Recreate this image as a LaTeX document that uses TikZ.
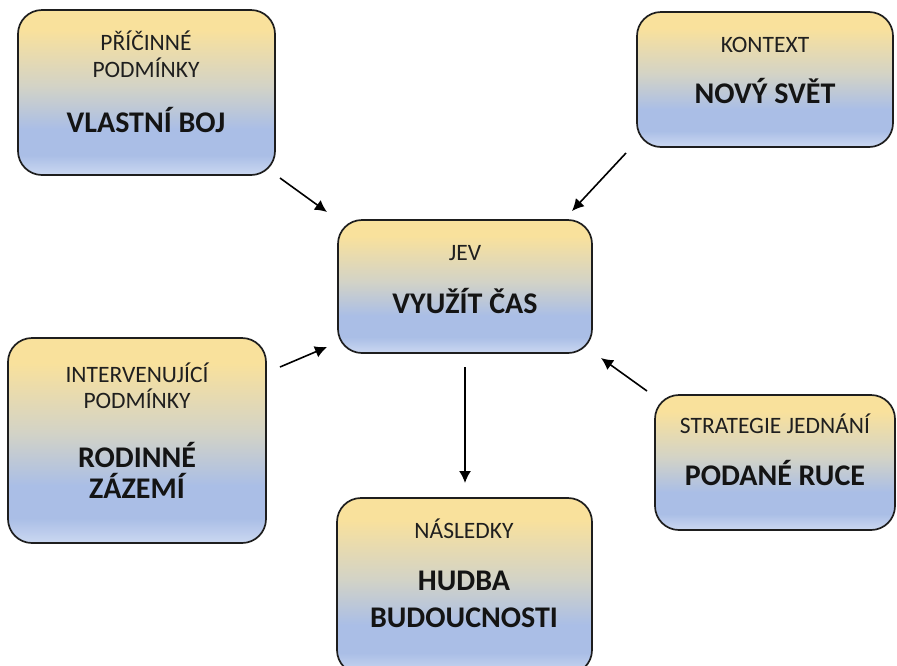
\documentclass[tikz,border=0pt]{standalone}
\usepackage{fontspec}
\setmainfont{Carlito}
\usetikzlibrary{arrows.meta}

\definecolor{fillTop}{HTML}{F9E19C}
\definecolor{fillMid}{HTML}{D3D3C6}
\definecolor{fillBlue}{HTML}{AABEE6}
\definecolor{fillBot}{HTML}{CBD8F1}
\definecolor{edge}{HTML}{1E1E1E}

% vertical gradient; the path spans 25bp (bottom) to 75bp (top)
\pgfdeclareverticalshading{boxfill}{100bp}{%
  color(0bp)=(fillBot); color(25bp)=(fillBot); color(31bp)=(fillBlue);
  color(39bp)=(fillBlue); color(52bp)=(fillMid); color(69bp)=(fillTop);
  color(75bp)=(fillTop); color(100bp)=(fillTop)}

\tikzset{
  card/.style={draw=edge, line width=1.7pt, rounded corners=24pt, shading=boxfill,
    inner sep=0pt},
  small/.style={font=\fontsize{23.5}{26}\selectfont, anchor=base, inner sep=0pt, text=black!88},
  big/.style={font=\fontsize{30}{33}\selectfont\bfseries, anchor=base, inner sep=0pt, text=black!92},
  flow/.style={-{Latex[length=12pt,width=12pt]}, line width=1.6pt, black}
}

\begin{document}
\begin{tikzpicture}[x=1pt,y=-1pt]
\useasboundingbox (0,0) rectangle (897,665);

% boxes
\node[card, minimum width=257pt, minimum height=165pt] (causal) at (146.5,92.5) {};
\node[card, minimum width=256pt, minimum height=135pt] (context) at (765,79.5) {};
\node[card, minimum width=254pt, minimum height=133pt] (phen) at (465,286.5) {};
\node[card, minimum width=258pt, minimum height=205pt] (interv) at (137,440.5) {};
\node[card, minimum width=240pt, minimum height=135pt] (strat) at (775,462.5) {};
\node[card, minimum width=255pt, minimum height=176pt] (conseq) at (464.5,586) {};

% texts
\node[small] (t1a) at (146,50) {PŘÍČINNÉ};
\node[small] (t1b) at (146,77) {PODMÍNKY};
\node[big]   (t1c) at (146,132) {VLASTNÍ BOJ};

\node[small] (t2a) at (765,52) {KONTEXT};
\node[big]   (t2b) at (765,103) {NOVÝ SVĚT};

\node[small] (t3a) at (465,260) {JEV};
\node[big]   (t3b) at (465,313) {VYUŽÍT ČAS};

\node[small] (t4a) at (137,382) {INTERVENUJÍCÍ};
\node[small] (t4b) at (137,408) {PODMÍNKY};
\node[big]   (t4c) at (137,467) {RODINNÉ};
\node[big]   (t4d) at (137,498) {ZÁZEMÍ};

\node[small] (t5a) at (775,433) {STRATEGIE JEDNÁNÍ};
\node[big]   (t5b) at (775,485) {PODANÉ RUCE};

\node[small] (t6a) at (464,538) {NÁSLEDKY};
\node[big]   (t6b) at (464,590) {HUDBA};
\node[big]   (t6c) at (464,627) {BUDOUCNOSTI};

% arrow end points
\coordinate (a1s) at (280,178);  \coordinate (a1e) at (327,212);
\coordinate (a2s) at (626,153);  \coordinate (a2e) at (572,211);
\coordinate (a3s) at (280,367);  \coordinate (a3e) at (327,347);
\coordinate (a4s) at (647,391);  \coordinate (a4e) at (601,358);
\coordinate (a5s) at (465,367);  \coordinate (a5e) at (465,483);

\draw[flow] (a1s) -- (a1e);
\draw[flow] (a2s) -- (a2e);
\draw[flow] (a3s) -- (a3e);
\draw[flow] (a4s) -- (a4e);
\draw[flow] (a5s) -- (a5e);
\end{tikzpicture}
\end{document}
